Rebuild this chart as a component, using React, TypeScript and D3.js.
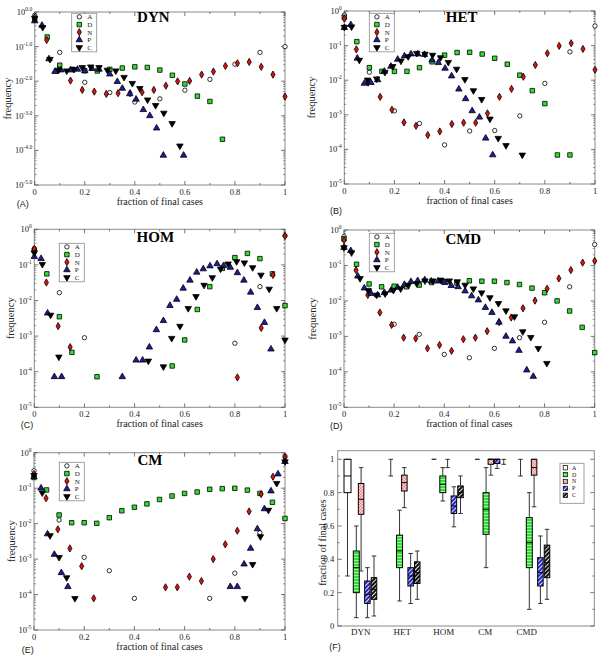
import React from 'react';
import * as d3 from 'd3';

type Pt = [number, number];

// ---- DYN ----
const dynA: Pt[] = [[0, 0.8], [0.1, 0.068], [0.2, 0.0093], [0.3, 0.0047], [0.4, 0.0025], [0.5, 0.0031], [0.6, 0.0055], [0.7, 0.0113], [0.8, 0.031], [0.9, 0.068], [1, 0.1]];
const dynD: Pt[] = [[0, 0.6], [0.05, 0.19], [0.1, 0.029], [0.15, 0.022], [0.2, 0.02], [0.25, 0.0197], [0.3, 0.022], [0.35, 0.024], [0.4, 0.026], [0.45, 0.025], [0.5, 0.021], [0.55, 0.0148], [0.6, 0.0083], [0.65, 0.0037], [0.7, 0.0026], [0.75, 0.00021]];
const dynN: Pt[] = [[0, 0.7], [0.048, 0.155], [0.095, 0.021], [0.143, 0.0104], [0.19, 0.0056], [0.238, 0.005], [0.286, 0.0043], [0.333, 0.0045], [0.381, 0.0045], [0.429, 0.0048], [0.476, 0.0056], [0.524, 0.0074], [0.571, 0.0099], [0.619, 0.0102], [0.667, 0.0155], [0.714, 0.019], [0.762, 0.0275], [0.81, 0.033], [0.857, 0.036], [0.905, 0.026], [0.952, 0.0155], [1, 0.0036]];
const dynP: Pt[] = [[0, 0.55], [0.029, 0.41], [0.057, 0.044], [0.081, 0.019], [0.105, 0.021], [0.143, 0.021], [0.171, 0.022], [0.2, 0.02], [0.229, 0.023], [0.257, 0.022], [0.3, 0.016], [0.33, 0.0097], [0.35, 0.0062], [0.38, 0.0043], [0.405, 0.003], [0.434, 0.0015], [0.46, 0.001], [0.487, 0.00044], [0.514, 7.2e-5], [0.595, 7.2e-5]];
const dynC: Pt[] = [[0, 0.66], [0.032, 0.36], [0.061, 0.043], [0.095, 0.021], [0.128, 0.02], [0.157, 0.022], [0.19, 0.025], [0.224, 0.026], [0.257, 0.025], [0.29, 0.021], [0.324, 0.02], [0.357, 0.013], [0.39, 0.0087], [0.42, 0.0062], [0.451, 0.0029], [0.483, 0.002], [0.516, 0.0012], [0.549, 0.0006], [0.58, 0.000135]];

// ---- HET ----
const hetA: Pt[] = [[0, 0.76], [0.1, 0.017], [0.2, 0.0013], [0.3, 0.00056], [0.4, 0.000135], [0.5, 0.00034], [0.6, 0.00035], [0.7, 0.00093], [0.8, 0.0081], [0.9, 0.066], [1, 0.37]];
const hetD: Pt[] = [[0, 0.66], [0.05, 0.13], [0.1, 0.023], [0.15, 0.018], [0.2, 0.018], [0.25, 0.018], [0.3, 0.023], [0.35, 0.034], [0.4, 0.053], [0.45, 0.063], [0.5, 0.064], [0.55, 0.057], [0.6, 0.043], [0.65, 0.029], [0.7, 0.014], [0.75, 0.005], [0.8, 0.0021], [0.85, 6.9e-5], [0.9, 6.9e-5]];
const hetN: Pt[] = [[0, 0.6], [0.048, 0.078], [0.095, 0.0085], [0.143, 0.0033], [0.19, 0.0014], [0.238, 0.0006], [0.286, 0.00048], [0.333, 0.00026], [0.381, 0.00033], [0.429, 0.00054], [0.476, 0.00059], [0.524, 0.00059], [0.571, 0.0011], [0.619, 0.0033], [0.667, 0.0056], [0.714, 0.0126], [0.762, 0.0275], [0.81, 0.06], [0.857, 0.098], [0.905, 0.117], [0.952, 0.08], [1, 0.02]];
const hetP: Pt[] = [[0, 0.33], [0.026, 0.4], [0.052, 0.043], [0.08, 0.0081], [0.106, 0.0085], [0.133, 0.0102], [0.16, 0.018], [0.186, 0.025], [0.213, 0.04], [0.24, 0.05], [0.266, 0.057], [0.293, 0.057], [0.32, 0.055], [0.35, 0.038], [0.375, 0.032], [0.402, 0.022], [0.428, 0.0132], [0.457, 0.0055], [0.484, 0.0029], [0.51, 0.0013], [0.539, 0.00085], [0.564, 0.00021], [0.592, 6.9e-5]];
const hetC: Pt[] = [[0, 0.34], [0.029, 0.35], [0.06, 0.038], [0.093, 0.0102], [0.129, 0.011], [0.162, 0.017], [0.193, 0.025], [0.226, 0.036], [0.255, 0.048], [0.289, 0.06], [0.322, 0.057], [0.352, 0.053], [0.384, 0.045], [0.415, 0.033], [0.448, 0.021], [0.481, 0.0105], [0.515, 0.005], [0.548, 0.0028], [0.581, 0.00076], [0.614, 0.00021], [0.645, 0.00013], [0.71, 6.9e-5]];

// ---- HOM ----
const homA: Pt[] = [[0, 0.29], [0.1, 0.0166], [0.2, 0.0009], [0.8, 0.00063], [0.9, 0.0245], [1, 0.66]];
const homD: Pt[] = [[0, 0.25], [0.05, 0.056], [0.1, 0.0035], [0.15, 0.00035], [0.25, 7.2e-5], [0.55, 0.000145], [0.6, 0.00078], [0.65, 0.0056], [0.7, 0.0245], [0.75, 0.08], [0.8, 0.16], [0.85, 0.21], [0.9, 0.15], [0.95, 0.056], [1, 0.0072]];
const homN: Pt[] = [[0, 0.28], [0.048, 0.032], [0.095, 0.0019], [0.143, 0.00049], [0.81, 6.9e-5], [0.905, 0.0017], [0.952, 0.052], [1, 0.65]];
const homP: Pt[] = [[0, 0.17], [0.027, 0.15], [0.053, 0.0044], [0.08, 7.2e-5], [0.109, 7.2e-5], [0.351, 7.2e-5], [0.406, 0.00021], [0.432, 0.00021], [0.459, 0.00049], [0.487, 0.0015], [0.515, 0.0027], [0.541, 0.0072], [0.568, 0.0107], [0.594, 0.022], [0.621, 0.037], [0.648, 0.062], [0.674, 0.077], [0.701, 0.093], [0.729, 0.107], [0.755, 0.095], [0.782, 0.085], [0.81, 0.06], [0.836, 0.037], [0.863, 0.017], [0.89, 0.0063], [0.918, 0.0024], [0.944, 0.00043]];
const homC: Pt[] = [[0, 0.22], [0.032, 0.104], [0.065, 0.0039], [0.098, 0.00026], [0.455, 0.0002], [0.515, 0.000138], [0.548, 0.00087], [0.581, 0.0019], [0.614, 0.006], [0.645, 0.013], [0.677, 0.027], [0.71, 0.044], [0.743, 0.077], [0.773, 0.107], [0.807, 0.124], [0.838, 0.115], [0.871, 0.084], [0.904, 0.052], [0.937, 0.021], [0.967, 0.006], [1, 0.00078]];

// ---- CMD ----
const cmdA: Pt[] = [[0, 0.65], [0.1, 0.02], [0.2, 0.0022], [0.3, 0.00114], [0.4, 0.00031], [0.5, 0.00025], [0.6, 0.00046], [0.7, 0.00092], [0.8, 0.0025], [0.9, 0.025], [1, 0.39]];
const cmdD: Pt[] = [[0, 0.56], [0.05, 0.108], [0.1, 0.03], [0.15, 0.025], [0.2, 0.026], [0.25, 0.025], [0.3, 0.028], [0.35, 0.033], [0.4, 0.035], [0.45, 0.032], [0.5, 0.037], [0.55, 0.036], [0.6, 0.036], [0.65, 0.033], [0.7, 0.029], [0.75, 0.023], [0.8, 0.017], [0.85, 0.01], [0.9, 0.0052], [0.95, 0.0018], [1, 0.00035]];
const cmdN: Pt[] = [[0, 0.52], [0.048, 0.074], [0.095, 0.0147], [0.143, 0.0047], [0.19, 0.0021], [0.238, 0.00092], [0.286, 0.00087], [0.333, 0.00046], [0.381, 0.00057], [0.429, 0.00039], [0.476, 0.00083], [0.524, 0.00092], [0.571, 0.0014], [0.619, 0.0025], [0.667, 0.0034], [0.714, 0.0062], [0.762, 0.0102], [0.81, 0.022], [0.857, 0.043], [0.905, 0.074], [0.952, 0.12], [1, 0.134]];
const cmdP: Pt[] = [[0, 0.32], [0.027, 0.26], [0.055, 0.05], [0.081, 0.023], [0.108, 0.016], [0.134, 0.0147], [0.161, 0.017], [0.188, 0.02], [0.214, 0.024], [0.241, 0.029], [0.267, 0.035], [0.294, 0.037], [0.322, 0.039], [0.348, 0.036], [0.375, 0.036], [0.402, 0.033], [0.428, 0.027], [0.455, 0.025], [0.483, 0.019], [0.509, 0.0138], [0.536, 0.0106], [0.564, 0.0065], [0.59, 0.0047], [0.618, 0.0025], [0.646, 0.001], [0.672, 0.00074], [0.698, 0.0004], [0.729, 0.000112], [0.755, 7.4e-5]];
const cmdC: Pt[] = [[0, 0.32], [0.03, 0.23], [0.064, 0.043], [0.097, 0.0195], [0.13, 0.0147], [0.164, 0.016], [0.197, 0.02], [0.226, 0.022], [0.257, 0.028], [0.29, 0.031], [0.323, 0.037], [0.354, 0.037], [0.386, 0.039], [0.42, 0.037], [0.452, 0.035], [0.483, 0.028], [0.516, 0.022], [0.549, 0.017], [0.582, 0.0124], [0.616, 0.0085], [0.646, 0.0053], [0.68, 0.0036], [0.713, 0.00136], [0.745, 0.00094], [0.775, 0.00046], [0.809, 0.000174]];

// ---- CM ----
const cmA: Pt[] = [[0, 0.31], [0.1, 0.0126], [0.2, 0.00112], [0.3, 0.00047], [0.4, 7.8e-5], [0.7, 7.8e-5], [0.8, 0.0004], [0.9, 0.0056], [1, 0.8]];
const cmD: Pt[] = [[0, 0.2], [0.05, 0.089], [0.1, 0.0175], [0.15, 0.0106], [0.2, 0.0106], [0.25, 0.0102], [0.3, 0.0147], [0.35, 0.023], [0.4, 0.029], [0.45, 0.036], [0.5, 0.048], [0.55, 0.06], [0.6, 0.071], [0.65, 0.078], [0.7, 0.093], [0.75, 0.097], [0.8, 0.099], [0.85, 0.088], [0.9, 0.071], [0.95, 0.04], [1, 0.014]];
const cmN: Pt[] = [[0, 0.25], [0.048, 0.052], [0.095, 0.0069], [0.143, 0.002], [0.19, 0.00063], [0.238, 7.8e-5], [0.524, 0.00016], [0.571, 0.00016], [0.619, 0.00032], [0.667, 0.00024], [0.714, 0.001], [0.762, 0.0026], [0.81, 0.0063], [0.857, 0.022], [0.905, 0.068], [0.952, 0.21], [1, 0.74]];
const cmP: Pt[] = [[0, 0.21], [0.028, 0.1], [0.054, 0.0051], [0.081, 0.00135], [0.109, 0.00041], [0.135, 0.000166], [0.782, 0.000166], [0.81, 0.000166], [0.837, 0.00072], [0.863, 0.002], [0.89, 0.0071], [0.918, 0.026], [0.944, 0.083], [0.972, 0.25], [1, 0.56]];
const cmC: Pt[] = [[0, 0.23], [0.033, 0.074], [0.064, 0.0046], [0.1, 0.00112], [0.13, 0.0003], [0.163, 7.8e-5], [0.84, 7.8e-5], [0.871, 0.00071], [0.902, 0.0043], [0.934, 0.024], [0.967, 0.137], [1, 0.56]];

// ---- (F) box plots: [low whisker, q1, median, q3, high whisker] per category ----
const boxCategories = ['DYN', 'HET', 'HOM', 'CM', 'CMD'];
const boxA = [[0.3, 0.8, 0.9, 1, 1], [0.9, 1, 1, 1, 1], [1, 1, 1, 1, 1], [1, 1, 1, 1, 1], [0.9, 1, 1, 1, 1]];
const boxD = [[0.05, 0.2, 0.35, 0.45, 0.6], [0.15, 0.35, 0.45, 0.545, 0.695], [0.75, 0.8, 0.85, 0.9, 0.95], [0.35, 0.55, 0.7, 0.8, 0.95], [0.1, 0.35, 0.5, 0.65, 0.8]];
const boxN = [[0.33, 0.67, 0.76, 0.855, 0.95], [0.71, 0.81, 0.86, 0.905, 0.95], [0.95, 1, 1, 1, 1], [0.905, 0.97, 1, 1, 1], [0.715, 0.905, 0.95, 1, 1]];
const boxP = [[0.05, 0.135, 0.19, 0.27, 0.35], [0.135, 0.24, 0.3, 0.35, 0.435], [0.595, 0.675, 0.72, 0.78, 0.835], [0.945, 0.975, 1, 1, 1], [0.135, 0.24, 0.32, 0.41, 0.54]];
const boxC = [[0.06, 0.16, 0.22, 0.29, 0.42], [0.16, 0.255, 0.32, 0.385, 0.45], [0.675, 0.77, 0.8, 0.84, 0.9], [0.97, 1, 1, 1, 1], [0.16, 0.29, 0.38, 0.485, 0.58]];

const seriesNames = ['A', 'D', 'N', 'P', 'C'];

const SERIF = '"Liberation Serif", "DejaVu Serif", serif';
const SANS = '"Liberation Sans", Arial, sans-serif';

const symbolDefs = [
  { type: d3.symbolCircle, size: 15, fill: '#fff', rot: 0 },
  { type: d3.symbolSquare, size: 20, fill: '#2ee02e', rot: 0 },
  { type: d3.symbolDiamond, size: 15, fill: '#e01010', rot: 0 },
  { type: d3.symbolTriangle, size: 18, fill: '#1c1c9c', rot: 0 },
  { type: d3.symbolTriangle, size: 18, fill: '#000', rot: 180 },
];

const Sym: React.FC<{ k: number; x: number; y: number }> = ({ k, x, y }) => {
  const s = symbolDefs[k];
  const d = d3.symbol().type(s.type).size(s.size)() as string;
  return (
    <path d={d} transform={`translate(${x},${y}) rotate(${s.rot})`} fill={s.fill} stroke="#000" strokeWidth={0.8} />
  );
};

interface ScatterProps {
  box: { l: number; r: number; t: number; b: number };
  title: string;
  titlePos: [number, number];
  legendPos: [number, number];
  data: Pt[][];
  expDigits: boolean;
  yLabelX: number;
  panelLabel: string;
  panelLabelPos: [number, number];
}

const ScatterPanel: React.FC<ScatterProps> = ({ box, title, titlePos, legendPos, data, expDigits, yLabelX, panelLabel, panelLabelPos }) => {
  const x = d3.scaleLinear().domain([0, 1]).range([box.l, box.r]);
  const y = d3.scaleLog().domain([1e-5, 1]).range([box.b, box.t]);
  const majorX = x.ticks(5);
  const minorX = x.ticks(10).filter((v) => !majorX.some((m) => Math.abs(m - v) < 1e-9));
  const decades = d3.range(-5, 1);
  const minorY = decades.slice(0, -1).flatMap((e) => d3.range(2, 10).map((m) => m * Math.pow(10, e)));
  const fmtX = d3.format('~g');
  const tickC = '#555';
  return (
    <g>
      <rect x={box.l} y={box.t} width={box.r - box.l} height={box.b - box.t} fill="none" stroke="#8a8a8a" strokeWidth={1} />
      {majorX.map((v) => (
        <g key={'mx' + v} stroke={tickC} strokeWidth={0.8}>
          <line x1={x(v)} x2={x(v)} y1={box.b} y2={box.b - 4} />
          <line x1={x(v)} x2={x(v)} y1={box.t} y2={box.t + 4} />
        </g>
      ))}
      {minorX.map((v) => (
        <g key={'nx' + v} stroke={tickC} strokeWidth={0.8}>
          <line x1={x(v)} x2={x(v)} y1={box.b} y2={box.b - 2} />
          <line x1={x(v)} x2={x(v)} y1={box.t} y2={box.t + 2} />
        </g>
      ))}
      {decades.map((e) => (
        <g key={'my' + e} stroke={tickC} strokeWidth={0.8}>
          <line x1={box.l} x2={box.l + 4} y1={y(Math.pow(10, e))} y2={y(Math.pow(10, e))} />
          <line x1={box.r} x2={box.r - 4} y1={y(Math.pow(10, e))} y2={y(Math.pow(10, e))} />
        </g>
      ))}
      {minorY.map((v, i) => (
        <g key={'ny' + i} stroke={tickC} strokeWidth={0.6}>
          <line x1={box.l} x2={box.l + 2} y1={y(v)} y2={y(v)} />
          <line x1={box.r} x2={box.r - 2} y1={y(v)} y2={y(v)} />
        </g>
      ))}
      {majorX.map((v) => (
        <text key={'lx' + v} x={x(v)} y={box.b + 9.5} fontFamily={SERIF} fontSize={8.5} textAnchor="middle" fill="#222">
          {fmtX(v)}
        </text>
      ))}
      {decades.map((e) => (
        <text key={'ly' + e} x={box.l - 2.5} y={y(Math.pow(10, e)) + 3} fontFamily={SERIF} fontSize={8.5} textAnchor="end" fill="#222">
          10
          <tspan dy={-4} fontSize={5.5}>{expDigits ? e.toFixed(1) : String(e)}</tspan>
        </text>
      ))}
      <text x={(box.l + box.r) / 2} y={box.b + 19.5} fontFamily={SERIF} fontSize={10} textAnchor="middle" fill="#222">
        fraction of final cases
      </text>
      <text transform={`translate(${yLabelX},${(box.t + box.b) / 2}) rotate(-90)`} fontFamily={SERIF} fontSize={10.5} textAnchor="middle" dy={3.5} fill="#222">
        frequency
      </text>
      <text x={titlePos[0]} y={titlePos[1]} fontFamily={SERIF} fontWeight="bold" fontSize={15} textAnchor="middle">
        {title}
      </text>
      {data.map((pts, k) => (
        <g key={'s' + k}>
          {pts.map((p, i) => (
            <Sym key={i} k={k} x={x(p[0])} y={y(p[1])} />
          ))}
        </g>
      ))}
      <g transform={`translate(${legendPos[0]},${legendPos[1]})`}>
        <rect width={25} height={38.5} fill="#fff" stroke="#8a8a8a" strokeWidth={0.8} />
        {seriesNames.map((n, i) => (
          <g key={n}>
            <Sym k={i} x={7.6} y={3.6 + 7.65 * i} />
            <text x={15.5} y={3.6 + 7.65 * i + 2.4} fontFamily={SERIF} fontSize={7} fill="#222">
              {n}
            </text>
          </g>
        ))}
      </g>
      <text x={panelLabelPos[0]} y={panelLabelPos[1]} fontFamily={SANS} fontSize={9} fill="#222">
        {panelLabel}
      </text>
    </g>
  );
};

const boxFills = ['#fff', 'url(#patD)', 'url(#patN)', 'url(#patP)', 'url(#patC)'];
const boxOffsets = [0, 8.8, 13.6, 19.9, 26.5];
const boxWidths = [7, 6, 5.5, 5.5, 5.5];

const BoxPanel: React.FC = () => {
  const l = 337.7, r = 594.3, t = 450.7, b = 626;
  const y = d3.scaleLinear().domain([0, 1]).range([626, 459.3]);
  const gx = d3.scaleLinear().domain([0, 4]).range([347.5, 520.5]);
  const labelX = d3.scaleLinear().domain([0, 4]).range([360.7, 526.7]);
  const all = [boxA, boxD, boxN, boxP, boxC];
  const major = y.ticks(5);
  const minor = y.ticks(10).filter((v) => !major.some((m) => Math.abs(m - v) < 1e-9));
  const fmt = d3.format('~g');
  return (
    <g>
      <defs>
        <pattern id="patD" width={3} height={3} patternUnits="userSpaceOnUse">
          <rect width={3} height={3} fill="#2ee02e" />
          <rect y={2} width={3} height={1} fill="#a6f2a6" />
        </pattern>
        <pattern id="patN" width={3} height={3} patternUnits="userSpaceOnUse">
          <rect width={3} height={3} fill="#f08080" />
          <rect width={1.5} height={1.5} fill="#fde0e0" />
          <rect x={1.5} y={1.5} width={1.5} height={1.5} fill="#fde0e0" />
        </pattern>
        <pattern id="patP" width={3} height={3} patternUnits="userSpaceOnUse" patternTransform="rotate(45)">
          <rect width={3} height={3} fill="#2626c8" />
          <rect width={1} height={3} fill="#e0e0ff" />
        </pattern>
        <pattern id="patC" width={3} height={3} patternUnits="userSpaceOnUse" patternTransform="rotate(45)">
          <rect width={3} height={3} fill="#111" />
          <rect width={1} height={3} fill="#ddd" />
        </pattern>
      </defs>
      <rect x={l} y={t} width={r - l} height={b - t} fill="none" stroke="#8a8a8a" strokeWidth={1} />
      {major.map((v) => (
        <g key={'m' + v} stroke="#555" strokeWidth={0.8}>
          <line x1={l} x2={l + 4} y1={y(v)} y2={y(v)} />
          <line x1={r} x2={r - 4} y1={y(v)} y2={y(v)} />
        </g>
      ))}
      {minor.map((v) => (
        <g key={'n' + v} stroke="#555" strokeWidth={0.8}>
          <line x1={l} x2={l + 2} y1={y(v)} y2={y(v)} />
          <line x1={r} x2={r - 2} y1={y(v)} y2={y(v)} />
        </g>
      ))}
      {major.map((v) => (
        <text key={'l' + v} x={l - 3.5} y={y(v) + 3} fontFamily={SERIF} fontSize={8.5} textAnchor="end" fill="#222">
          {fmt(v)}
        </text>
      ))}
      {boxCategories.map((c, i) => (
        <text key={c} x={labelX(i)} y={635} fontFamily={SERIF} fontSize={9} textAnchor="middle" fill="#222">
          {c}
        </text>
      ))}
      <text transform={`translate(322,${(459.3 + 626) / 2}) rotate(-90)`} fontFamily={SERIF} fontSize={10} textAnchor="middle" dy={3.5} fill="#222">
        fraction of final cases
      </text>
      {all.map((stats, s) =>
        stats.map((st, g) => {
          const cx = gx(g) + boxOffsets[s];
          const w = boxWidths[s];
          const [lo, q1, md, q3, hi] = st;
          const cap = 4.5;
          return (
            <g key={s + '-' + g}>
              <g stroke="#333" strokeWidth={1}>
                {lo < q1 && <line x1={cx} x2={cx} y1={y(lo)} y2={y(q1)} />}
                {hi > q3 && <line x1={cx} x2={cx} y1={y(q3)} y2={y(hi)} />}
                <line x1={cx - cap / 2} x2={cx + cap / 2} y1={y(lo)} y2={y(lo)} />
                <line x1={cx - cap / 2} x2={cx + cap / 2} y1={y(hi)} y2={y(hi)} />
              </g>
              {q3 > q1 && (
                <g>
                  <rect x={cx - w / 2} y={y(q3)} width={w} height={y(q1) - y(q3)} fill={boxFills[s]} stroke="#000" strokeWidth={1} />
                  <line x1={cx - w / 2} x2={cx + w / 2} y1={y(md)} y2={y(md)} stroke="#000" strokeWidth={1} />
                </g>
              )}
            </g>
          );
        })
      )}
      <g transform="translate(560,463.3)">
        <rect width={24} height={40} fill="#fff" stroke="#8a8a8a" strokeWidth={0.8} />
        {seriesNames.map((n, i) => (
          <g key={n}>
            <rect x={3.2} y={4.4 + 6.9 * i - 2.2} width={4.4} height={4.4} fill={boxFills[i]} stroke="#000" strokeWidth={0.7} />
            <text x={12} y={4.4 + 6.9 * i + 2} fontFamily={SERIF} fontSize={6} fill="#222">
              {n}
            </text>
          </g>
        ))}
      </g>
      <text x={329.3} y={650} fontFamily={SANS} fontSize={9} fill="#222">
        (F)
      </text>
    </g>
  );
};

const App: React.FC = () => {
  return (
    <svg width={600} height={659} style={{ position: 'absolute', left: 0, top: 0, background: '#fff' }}>
      <rect width={600} height={659} fill="#fff" />
      <ScatterPanel
        box={{ l: 34.7, r: 285, t: 12, b: 185 }}
        title="DYN" titlePos={[153.3, 21.7]} legendPos={[71.7, 13.3]}
        data={[dynA, dynD, dynN, dynP, dynC]} expDigits yLabelX={7}
        panelLabel="(A)" panelLabelPos={[16.7, 207]}
      />
      <ScatterPanel
        box={{ l: 344.3, r: 595, t: 11, b: 184 }}
        title="HET" titlePos={[461.7, 21.7]} legendPos={[369.3, 13.3]}
        data={[hetA, hetD, hetN, hetP, hetC]} expDigits={false} yLabelX={311.7}
        panelLabel="(B)" panelLabelPos={[330, 214]}
      />
      <ScatterPanel
        box={{ l: 34.3, r: 285, t: 229.3, b: 407.3 }}
        title="HOM" titlePos={[155.3, 242.3]} legendPos={[59.3, 243.3]}
        data={[homA, homD, homN, homP, homC]} expDigits={false} yLabelX={10.7}
        panelLabel="(C)" panelLabelPos={[20.7, 427.5]}
      />
      <ScatterPanel
        box={{ l: 344, r: 594.7, t: 230, b: 407.3 }}
        title="CMD" titlePos={[463.3, 244.3]} legendPos={[369.3, 233.3]}
        data={[cmdA, cmdD, cmdN, cmdP, cmdC]} expDigits={false} yLabelX={312}
        panelLabel="(D)" panelLabelPos={[330, 429]}
      />
      <ScatterPanel
        box={{ l: 34, r: 285, t: 452.7, b: 630 }}
        title="CM" titlePos={[150, 465]} legendPos={[59.3, 462.3]}
        data={[cmA, cmD, cmN, cmP, cmC]} expDigits={false} yLabelX={11.7}
        panelLabel="(E)" panelLabelPos={[21.7, 653]}
      />
      <BoxPanel />
    </svg>
  );
};

export default App;
